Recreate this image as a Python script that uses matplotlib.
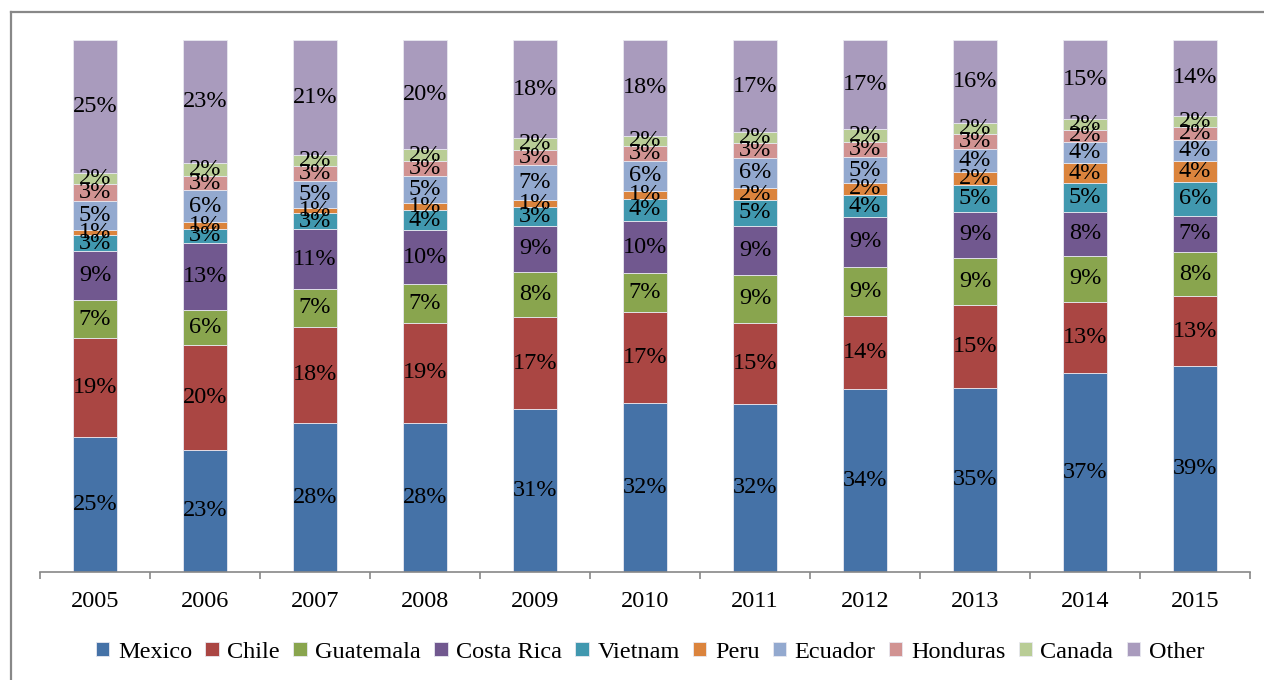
import numpy as np
import matplotlib
matplotlib.use("Agg")
import matplotlib.pyplot as plt
from matplotlib.lines import Line2D

years = ["2005", "2006", "2007", "2008", "2009", "2010", "2011", "2012", "2013", "2014", "2015"]

mexico     = [25.3, 22.9, 27.9, 27.9, 30.6, 31.6, 31.5, 34.3, 34.6, 37.3, 38.6]
chile      = [18.6, 19.6, 17.9, 18.6, 17.2, 17.0, 15.1, 13.7, 15.4, 13.4, 13.0]
guatemala  = [7.1, 6.5, 7.1, 7.3, 8.4, 7.2, 9.0, 9.3, 8.9, 8.6, 8.3]
costa_rica = [9.2, 12.6, 11.1, 10.1, 8.8, 9.7, 9.2, 9.3, 8.7, 8.3, 6.8]
vietnam    = [3.0, 2.6, 3.1, 3.7, 3.4, 4.2, 4.7, 4.1, 5.0, 5.4, 6.3]
peru       = [1.0, 1.2, 1.0, 1.4, 1.4, 1.4, 2.3, 2.3, 2.4, 3.7, 4.0]
ecuador    = [5.4, 6.0, 5.0, 5.0, 6.6, 5.7, 5.7, 4.8, 4.3, 3.9, 3.9]
honduras   = [3.1, 2.6, 2.8, 2.8, 2.8, 2.7, 2.7, 2.8, 2.8, 2.4, 2.5]
canada     = [2.2, 2.5, 2.1, 2.2, 2.2, 1.9, 2.0, 2.5, 2.1, 2.0, 2.0]
other      = [24.9, 23.0, 21.4, 20.4, 18.4, 17.9, 17.3, 16.7, 15.6, 14.8, 14.2]

names = ["Mexico", "Chile", "Guatemala", "Costa Rica", "Vietnam", "Peru",
         "Ecuador", "Honduras", "Canada", "Other"]
series = [mexico, chile, guatemala, costa_rica, vietnam, peru,
          ecuador, honduras, canada, other]
colors = ["#4572A7", "#AA4643", "#89A54E", "#71588F", "#4198AF",
          "#DB843D", "#93A9CF", "#D19392", "#B9CD96", "#A99BBD"]

plt.rcParams["font.family"] = ["Liberation Serif", "DejaVu Serif"]
plt.rcParams["font.size"] = 17

data = np.array(series, dtype=float)
shares = data / data.sum(axis=0) * 100

fig = plt.figure(figsize=(12.64, 6.8), dpi=100)
ax = fig.add_axes([40 / 1264, 1 - 572 / 680, 1210 / 1264, 532 / 680])

x = np.arange(len(years))
bottom = np.zeros(len(years))
handles = []
for name, vals, raw, col in zip(names, shares, data, colors):
    bars = ax.bar(x, vals, width=0.4, bottom=bottom, color=col,
                  edgecolor="#e8e8f0", linewidth=0.6, label=name)
    handles.append(bars)
    for xi, b, v, r in zip(x, bottom, vals, raw):
        ax.text(xi, b + v / 2, f"{r:.0f}%", ha="center", va="center",
                fontsize=17.5, color="black")
    bottom += vals

ax.set_xlim(-0.5, len(years) - 0.5)
ax.set_ylim(0, 100)
ax.set_yticks([])
for side in ["left", "right", "top"]:
    ax.spines[side].set_visible(False)
ax.spines["bottom"].set_color("#888888")
ax.spines["bottom"].set_linewidth(1.2)

ax.set_xticks(x)
ax.set_xticklabels(years)
ax.tick_params(axis="x", which="major", length=0, pad=14, labelsize=17.5)
ax.set_xticks(np.arange(-0.5, len(years)), minor=True)
ax.tick_params(axis="x", which="minor", length=5, width=1.2,
               color="#888888", direction="out")

fig.legend(handles=handles, labels=names, loc="center",
           bbox_to_anchor=(650 / 1264, 1 - 652 / 680), ncol=10, frameon=False,
           handlelength=0.55, handleheight=0.55, handletextpad=0.35,
           columnspacing=0.55, fontsize=17.5)

# outer frame (only left and top edges visible)
fig.add_artist(Line2D([11 / 1264, 11 / 1264], [0, 1 - 12 / 680],
                      transform=fig.transFigure, color="#888888", lw=1.6))
fig.add_artist(Line2D([11 / 1264, 1], [1 - 12 / 680, 1 - 12 / 680],
                      transform=fig.transFigure, color="#888888", lw=1.6))

fig.savefig("out.png", dpi=100)
